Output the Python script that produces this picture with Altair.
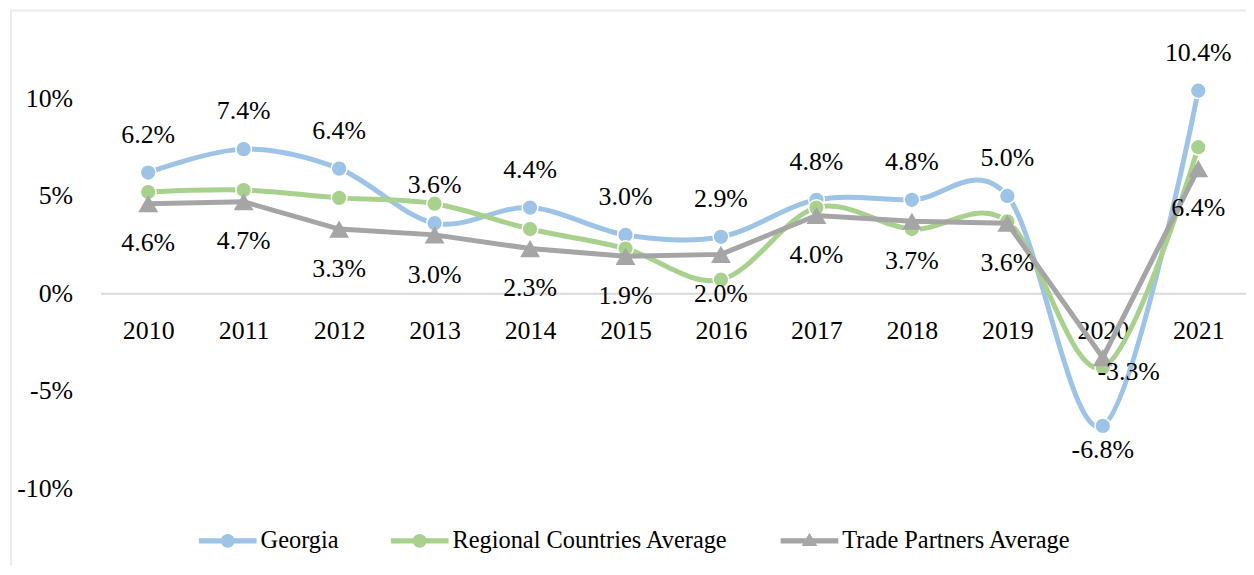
import altair as alt
import pandas as pd

years = ["2010", "2011", "2012", "2013", "2014", "2015", "2016", "2017", "2018", "2019", "2020", "2021"]
georgia = [6.2, 7.4, 6.4, 3.6, 4.4, 3.0, 2.9, 4.8, 4.8, 5.0, -6.8, 10.4]
regional = [5.2, 5.3, 4.9, 4.6, 3.3, 2.3, 0.7, 4.4, 3.3, 3.7, -3.8, 7.5]
trade = [4.6, 4.7, 3.3, 3.0, 2.3, 1.9, 2.0, 4.0, 3.7, 3.6, -3.3, 6.4]

series_names = ["Georgia", "Regional Countries Average", "Trade Partners Average"]
series_colors = ["#9DC3E6", "#A9D18E", "#A5A5A5"]

rows = []
for name, vals in zip(series_names, [georgia, regional, trade]):
    for y, v in zip(years, vals):
        rows.append({"year": y, "series": name, "value": v})
df = pd.DataFrame(rows)

FONT = "Liberation Serif"
W, H = 1152, 490
YMIN, YMAX = -11, 14
zero_from_top = H * YMAX / (YMAX - YMIN)

x_axis = alt.Axis(
    title=None, labelAngle=0, ticks=False, grid=False,
    domainColor="#D9D9D9", domainWidth=2,
    labelFont=FONT, labelFontSize=26, labelColor="#000000",
    labelPadding=24, offset=-(H - zero_from_top),
)
y_axis = alt.Axis(
    title=None, values=[-10, -5, 0, 5, 10], labelExpr="datum.value + '%'",
    domain=False, ticks=False, grid=False,
    labelFont=FONT, labelFontSize=26, labelColor="#000000", labelPadding=28,
)
X = alt.X("year:O", scale=alt.Scale(type="point", padding=0.5), axis=x_axis, sort=years)
Y = alt.Y("value:Q", scale=alt.Scale(domain=[YMIN, YMAX], nice=False, zero=False), axis=y_axis)
color_scale = alt.Scale(domain=series_names, range=series_colors)
C = alt.Color("series:N", scale=color_scale, legend=None)

base = alt.Chart(df)

layers = []
for name in series_names:
    sub = base.transform_filter(alt.datum.series == name)
    interp = "linear" if name == "Trade Partners Average" else "cardinal"
    layers.append(sub.mark_line(strokeWidth=5, interpolate=interp).encode(x=X, y=Y, color=C))
    shape = "triangle-up" if name == "Trade Partners Average" else "circle"
    size = 400 if shape == "triangle-up" else 250
    sw = 0 if shape == "triangle-up" else 1.5
    layers.append(sub.mark_point(filled=True, opacity=1, shape=shape, size=size,
                                 stroke="white", strokeWidth=sw).encode(
        x=X, y=Y, fill=alt.Fill("series:N", scale=color_scale, legend=None)))

lab = base.transform_calculate(label="replace(format(datum.value, '.1f'), '\u2212', '-') + '%'")
txt = dict(font=FONT, fontSize=26, color="#000000", baseline="middle", align="center")
g = lab.transform_filter(alt.datum.series == "Georgia")
t = lab.transform_filter(alt.datum.series == "Trade Partners Average")
layers.append(g.transform_filter(alt.datum.year != "2020").mark_text(dy=-38, **txt).encode(x=X, y=Y, text="label:N"))
layers.append(g.transform_filter(alt.datum.year == "2020").mark_text(dy=24, **txt).encode(x=X, y=Y, text="label:N"))
layers.append(t.transform_filter(alt.datum.year != "2020").mark_text(dy=40, **txt).encode(x=X, y=Y, text="label:N"))
layers.append(t.transform_filter(alt.datum.year == "2020").mark_text(dx=26, dy=14, **txt).encode(x=X, y=Y, text="label:N"))

circ = "M-1,-0.09 L1,-0.09 L1,0.09 L-1,0.09 Z M-0.24,0 A0.24,0.24 0 1,1 0.24,0 A0.24,0.24 0 1,1 -0.24,0 Z"
tri = "M-1,-0.09 L1,-0.09 L1,0.09 L-1,0.09 Z M0,-0.28 L0.27,0.18 L-0.27,0.18 Z"
legend = alt.Legend(
    title=None, orient="none", legendX=99, legendY=H + 4, direction="horizontal",
    symbolSize=3364, symbolStrokeWidth=0, symbolOpacity=1,
    labelFont=FONT, labelFontSize=24.5, labelColor="#000000", labelOffset=4, labelLimit=0,
    columnPadding=52, padding=0,
)
legend_layer = base.transform_filter("false").mark_point(filled=True).encode(
    x=X, y=Y,
    color=alt.Color("series:N", scale=color_scale, legend=legend),
    shape=alt.Shape("series:N", scale=alt.Scale(domain=series_names, range=[circ, circ, tri]), legend=legend),
)
layers.append(legend_layer)

frame = alt.Chart(pd.DataFrame({"a": [0]})).mark_rect(fillOpacity=0, stroke="#EBEBEB", strokeWidth=2).encode(
    x=alt.value(-90), x2=alt.value(W + 200), y=alt.value(-10), y2=alt.value(H + 300)
)

chart = alt.layer(frame, *layers).resolve_scale(color="independent", shape="independent", fill="independent").properties(
    width=W, height=H,
    autosize=alt.AutoSizeParams(type="none"),
    padding={"left": 93, "top": 11, "right": 0, "bottom": 56},
).configure_view(strokeWidth=0)

chart.save("out.html", embed_options={"renderer": "svg", "actions": False})
